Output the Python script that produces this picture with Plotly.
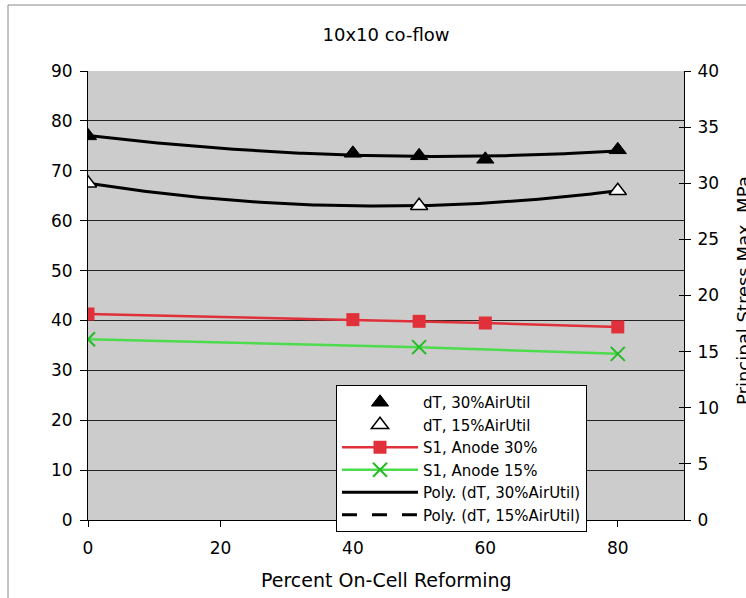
import numpy as np
import plotly.graph_objects as go

# ---- data ----
x_dt30 = [0, 40, 50, 60, 80]
dt30 = [77.0, 73.5, 73.0, 72.3, 74.2]
x_dt15 = [0, 50, 80]
dt15 = [67.5, 63.0, 66.0]
x_s30 = [0, 40, 50, 60, 80]
s1_30 = [18.35, 17.85, 17.7, 17.55, 17.2]
x_s15 = [0, 50, 80]
s1_15 = [16.1, 15.4, 14.8]

title_text = "10x10 co-flow"
x_title = "Percent On-Cell Reforming"
y2_title = "Principal Stress Max, MPa"

FONT = "DejaVu Sans"
FS = 17

# polynomial (order 2) trendlines fitted from the data
xs = np.linspace(0, 80, 161)
p30 = np.polyfit(x_dt30, dt30, 2)
p15 = np.polyfit(x_dt15, dt15, 2)

fig = go.Figure()

fig.add_trace(go.Scatter(x=xs, y=np.polyval(p30, xs), mode="lines",
                         line=dict(color="black", width=3), showlegend=False,
                         hoverinfo="skip"))
fig.add_trace(go.Scatter(x=xs, y=np.polyval(p15, xs), mode="lines",
                         line=dict(color="black", width=3), showlegend=False,
                         hoverinfo="skip"))

fig.add_trace(go.Scatter(x=x_dt30, y=dt30, mode="markers", name="dT, 30%AirUtil",
                         marker=dict(symbol="triangle-up", size=15, color="black",
                                     line=dict(color="black", width=1))))
fig.add_trace(go.Scatter(x=x_dt15, y=dt15, mode="markers", name="dT, 15%AirUtil",
                         marker=dict(symbol="triangle-up", size=15, color="white",
                                     line=dict(color="black", width=1.5))))
fig.add_trace(go.Scatter(x=x_s30, y=s1_30, mode="lines+markers", name="S1, Anode 30%",
                         yaxis="y2",
                         line=dict(color="#e0303a", width=2.5),
                         marker=dict(symbol="square", size=13, color="#e0303a")))
fig.add_trace(go.Scatter(x=x_s15, y=s1_15, mode="lines+markers", name="S1, Anode 15%",
                         yaxis="y2",
                         line=dict(color="#4ddc4d", width=2.5),
                         marker=dict(symbol="x-thin", size=14,
                                     line=dict(color="#22bb22", width=2))))
# legend entries for trendlines
fig.add_trace(go.Scatter(x=[None], y=[None], mode="lines", name="Poly. (dT, 30%AirUtil)",
                         line=dict(color="black", width=3)))
fig.add_trace(go.Scatter(x=[None], y=[None], mode="lines", name="Poly. (dT, 15%AirUtil)",
                         line=dict(color="black", width=3, dash="longdash")))
# helper for crossing ticks on right axis
fig.add_trace(go.Scatter(x=[None], y=[None], yaxis="y3", showlegend=False, hoverinfo="skip"))

fig.update_layout(
    width=746, height=598,
    margin=dict(l=88, r=62, t=71, b=78),
    paper_bgcolor="white",
    plot_bgcolor="#cccccc",
    font=dict(family=FONT, size=FS, color="black"),
    title=dict(text=title_text, x=(88 + 684) / 2 / 746, xanchor="center",
               y=1 - 35 / 598, yanchor="middle", yref="container",
               font=dict(family=FONT, size=FS + 1, color="black")),
    xaxis=dict(range=[0, 90], tickvals=[0, 20, 40, 60, 80], showgrid=False,
               zeroline=False, showline=True, linecolor="black", linewidth=1,
               ticks="outside", ticklen=6, tickcolor="black",
               ticklabelstandoff=7, tickfont=dict(size=FS)),
    yaxis=dict(range=[0, 90], dtick=10, showgrid=True, gridcolor="#222222",
               gridwidth=1, zeroline=False, showline=True, linecolor="black",
               linewidth=1, ticks="outside", ticklen=7, tickcolor="black",
               ticklabelstandoff=4, tickfont=dict(size=FS)),
    yaxis2=dict(range=[0, 40], dtick=5, overlaying="y", side="right",
                showgrid=False, zeroline=False, showline=True, linecolor="black",
                linewidth=1, ticks="outside", ticklen=6, tickcolor="black",
                ticklabelstandoff=3, tickfont=dict(size=FS)),
    yaxis3=dict(range=[0, 40], dtick=5, overlaying="y", side="right",
                showgrid=False, zeroline=False, showline=False,
                ticks="inside", ticklen=5, tickcolor="black",
                showticklabels=False),
    legend=dict(x=(336 - 88) / 596, y=(520 - 385) / 449, xanchor="left",
                yanchor="top", bgcolor="white", bordercolor="black",
                borderwidth=1, font=dict(size=15), itemwidth=76,
                tracegroupgap=0),
    showlegend=True,
)

fig.add_annotation(text=x_title, xref="paper", yref="paper",
                   x=(386 - 88) / 596, y=-(580 - 520) / 449, xanchor="center",
                   yanchor="middle", showarrow=False, font=dict(size=FS + 2))
fig.add_annotation(text=y2_title, xref="paper", yref="paper",
                   x=(743 - 88) / 596, y=(520 - 291) / 449, xanchor="center",
                   yanchor="middle", textangle=-90, showarrow=False,
                   font=dict(size=FS + 1))

# outer chart border (extends beyond the visible window)
fig.add_shape(type="rect", xref="paper", yref="paper",
              x0=-(88 - 8) / 596, x1=1.3, y0=-0.3, y1=(520 - 5) / 449,
              line=dict(color="#888888", width=1), fillcolor="rgba(0,0,0,0)",
              layer="below")

fig.write_html("out.html", config={"displayModeBar": False},
               post_script="document.body.style.margin='0';document.body.style.overflow='hidden';")
